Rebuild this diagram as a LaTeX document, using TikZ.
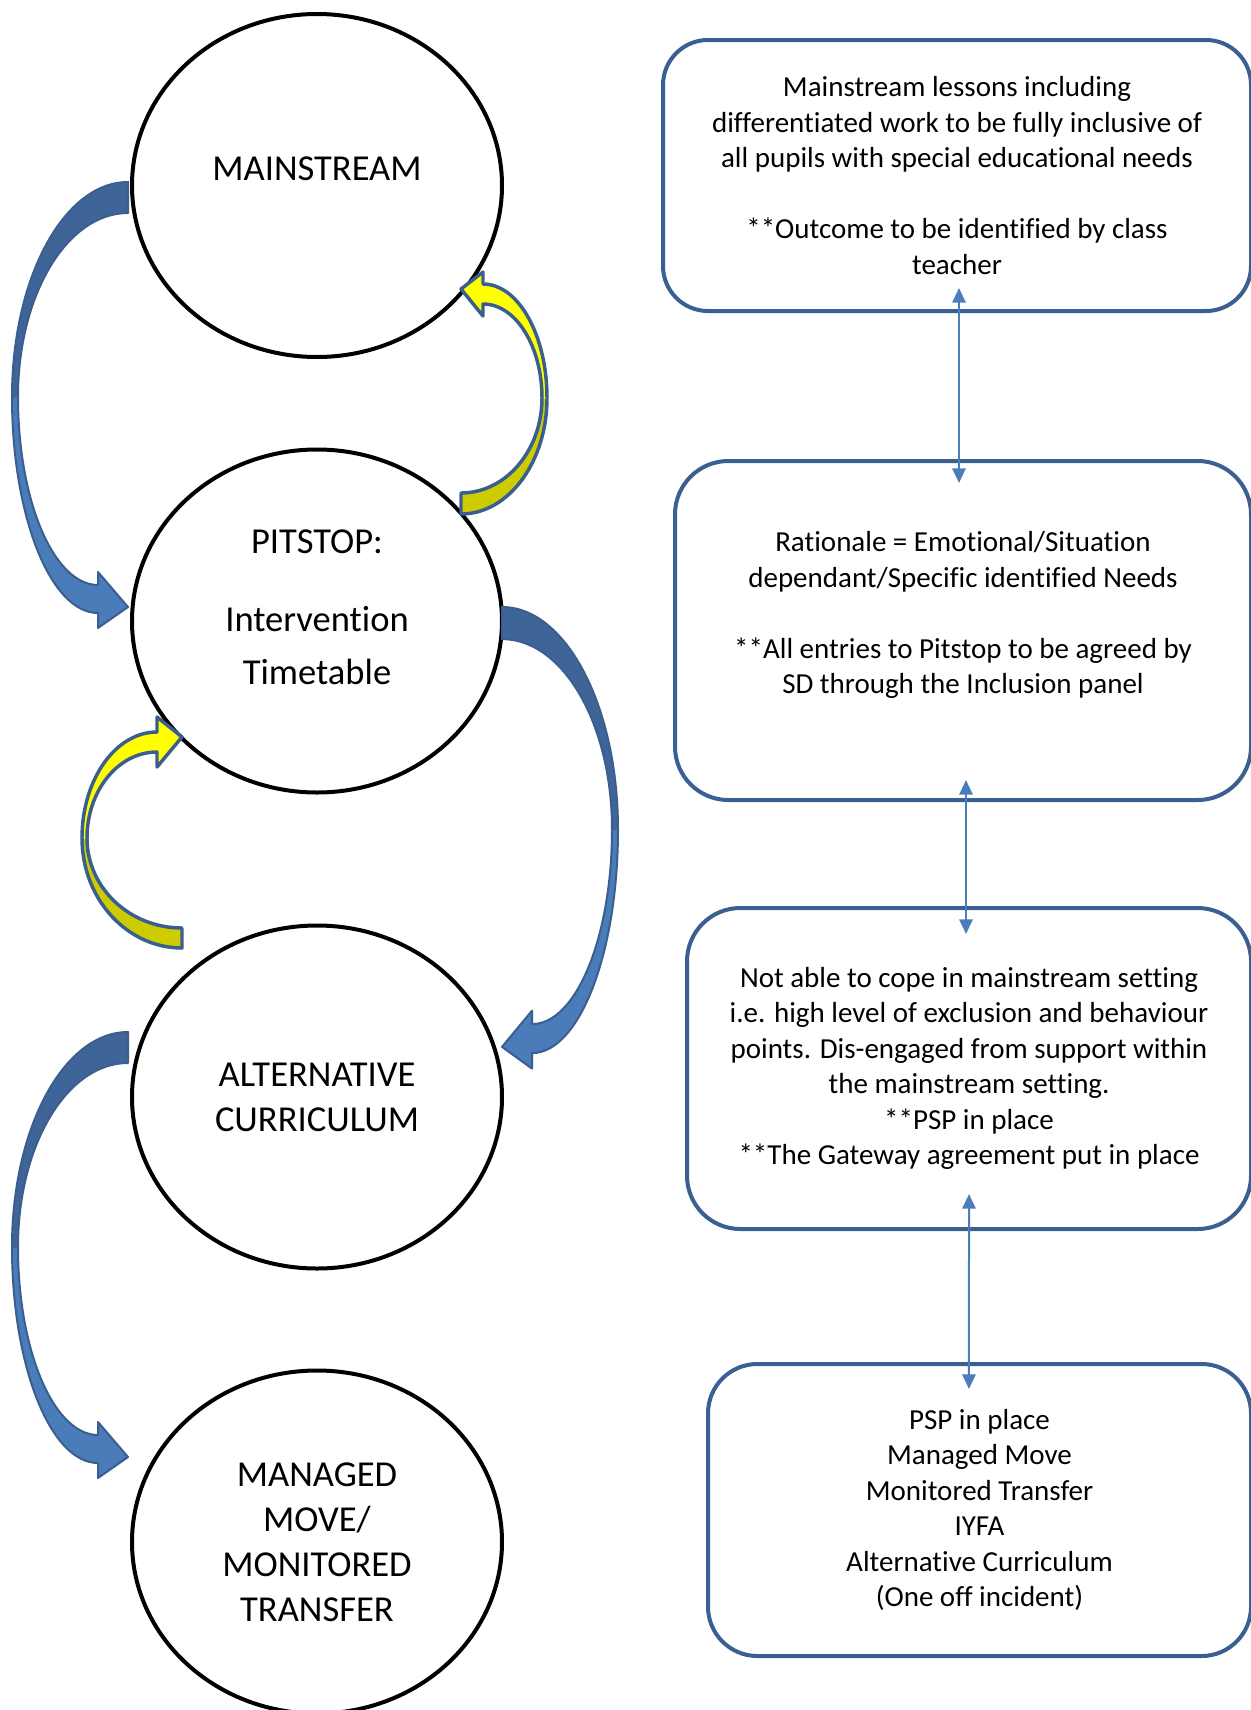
\documentclass[tikz,border=0pt]{standalone}
\usepackage{fontspec}
\setmainfont{Carlito}[Ligatures=NoCommon]
\usetikzlibrary{arrows.meta,shapes.geometric}
\definecolor{boxline}{HTML}{3A5F91}
\definecolor{linkblue}{HTML}{4A7EBB}
\definecolor{blueback}{HTML}{3F6598}
\definecolor{bluefront}{HTML}{4A7CB9}
\definecolor{arrowline}{HTML}{3A5F8F}
\definecolor{ybright}{HTML}{FFFF00}
\definecolor{yolive}{HTML}{CCCC00}
\newcommand\bluecurvepath{(0,0) .. controls (-64,0) and (-116,96) .. (-116,215) .. controls (-116,334) and (-77.5,431) .. (-30,431) -- (-30,446) -- (0,425) -- (-30,390) -- (-30,403) .. controls (-74,403) and (-110,319) .. (-110,215) .. controls (-110,113) and (-61,31) .. (0,31) -- cycle}
\newcommand\yellowApath{(461,514) .. controls (508.5,514) and (547,462) .. (547,398) .. controls (547,335) and (518.3,284) .. (483,284) -- (483,272) -- (461,289) -- (483,316) -- (483,304) .. controls (515.6,304) and (542,346) .. (542,398) .. controls (542,450.5) and (505.7,493) .. (461,493) -- cycle}
\newcommand\yellowBpath{(182,948) .. controls (127,948) and (82,899) .. (82,838) .. controls (82,779.5) and (115.6,732) .. (157,732) -- (157,717) -- (182,737) -- (157,767) -- (157,752) .. controls (118.3,752) and (87,790.5) .. (87,838) .. controls (87,887.7) and (129.5,928) .. (182,928) -- cycle}
\begin{document}
\begin{tikzpicture}[x=0.75pt,y=-0.75pt,
  circ/.style={draw=black, line width=3pt, ellipse, fill=white, inner sep=0pt,
    minimum width=277.5pt, minimum height=257.25pt},
  ctext/.style={font=\fontsize{27.4}{33.75}\selectfont, align=center, inner sep=0pt},
  infobox/.style={draw=boxline, line width=3pt, rectangle, align=center, inner sep=0pt,
    font=\fontsize{21.75}{26.6}\selectfont},
  link/.style={draw=linkblue, line width=1.5pt,
    {Triangle[length=11pt,width=10pt]}-{Triangle[length=11pt,width=10pt]}},
  arrowedge/.style={draw=arrowline, line width=1.5pt, line join=round},
  yedge/.style={draw=arrowline, line width=2.6pt, line join=round}]
\fill[white] (0,0) rectangle (1250,1710);
\useasboundingbox (0,0) rectangle (1250,1710);

% circles
\node[circ] (c1) at (317,185.5) {};
\node[circ] (c2) at (317,621) {};
\node[circ] (c3) at (317,1097) {};
\node[circ] (c4) at (317,1542) {};
\node[ctext] (t1) at (317,169) {MAINSTREAM};
\node[ctext] (t2) at (317,607.5) {PITSTOP:\\[24.75pt]Intervention\\[6pt]Timetable};
\node[ctext] (t3) at (317,1097.5) {ALTERNATIVE\\CURRICULUM};
\node[ctext] (t4) at (317,1542) {MANAGED\\MOVE/\\MONITORED\\TRANSFER};

% boxes
\node[infobox, rounded corners=33.75pt, minimum width=441pt, minimum height=203.25pt] (b1) at (957,175.5)
  {Mainstream lessons including\\ differentiated work to be fully inclusive of\\ all pupils with special educational needs\\[26.6pt] **Outcome to be identified by class\\ teacher};
\node[infobox, rounded corners=40pt, minimum width=432pt, minimum height=254.25pt] (b2) at (963,630.5)
  {Rationale = Emotional/Situation\\ dependant/Specific identified Needs\\[26.6pt] **All entries to Pitstop to be agreed by\\ SD through the Inclusion panel\\ \mbox{}};
\node[infobox, rounded corners=40pt, minimum width=423pt, minimum height=240.75pt] (b3) at (969,1068.5)
  {Not able to cope in mainstream setting\\ i.e. high level of exclusion and behaviour\\ points. Dis-engaged from support within\\ the mainstream setting.\\ **PSP in place\\ **The Gateway agreement put in place};
\node[infobox, rounded corners=37pt, minimum width=407.25pt, minimum height=219pt] (b4) at (979.5,1510)
  {PSP in place\\ Managed Move\\ Monitored Transfer\\ IYFA\\ Alternative Curriculum\\ (One off incident)};

% double-headed links
\draw[link] ([xshift=1.5pt,yshift=18.75pt]b1.south) -- ([xshift=-3pt,yshift=-18pt]b2.north);
\draw[link] ([xshift=2.25pt,yshift=16.5pt]b2.south) -- ([xshift=-2.25pt,yshift=-21pt]b3.north);
\draw[link] ([xshift=0pt,yshift=27.75pt]b3.south) -- ([xshift=-7.9pt,yshift=-20.25pt]b4.north);

% blue curved arrows
\begin{scope}[shift={(128,182)}]
  \fill[bluefront] \bluecurvepath;
  \begin{scope}\clip (-200,-50) rectangle (50,215); \fill[blueback] \bluecurvepath; \end{scope}
  \path[arrowedge] \bluecurvepath;
\end{scope}
\begin{scope}[shift={(502,607)}, xscale=-1, yscale=1.035]
  \fill[bluefront] \bluecurvepath;
  \begin{scope}\clip (-200,-50) rectangle (50,215); \fill[blueback] \bluecurvepath; \end{scope}
  \path[arrowedge] \bluecurvepath;
\end{scope}
\begin{scope}[shift={(128,1032)}]
  \fill[bluefront] \bluecurvepath;
  \begin{scope}\clip (-200,-50) rectangle (50,215); \fill[blueback] \bluecurvepath; \end{scope}
  \path[arrowedge] \bluecurvepath;
\end{scope}

% yellow curved arrows
\fill[yolive] \yellowApath;
\begin{scope}\clip (400,250) rectangle (600,398); \fill[ybright] \yellowApath; \end{scope}
\path[yedge] \yellowApath;
\fill[yolive] \yellowBpath;
\begin{scope}\clip (50,700) rectangle (200,838); \fill[ybright] \yellowBpath; \end{scope}
\path[yedge] \yellowBpath;
\end{tikzpicture}
\end{document}
